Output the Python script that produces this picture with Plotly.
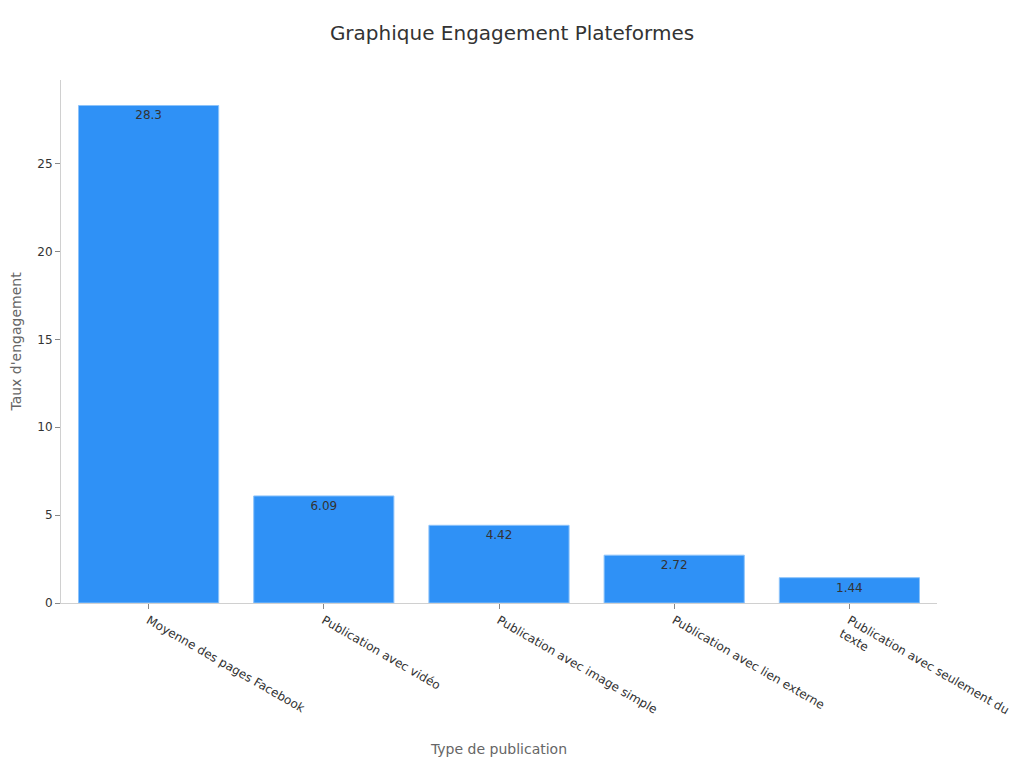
import plotly.graph_objects as go

# categories and values
categories = [
    "Moyenne des pages Facebook",
    "Publication avec vidéo",
    "Publication avec image simple",
    "Publication avec lien externe",
    "Publication avec seulement du<br>texte",
]
engagement = [28.3, 6.09, 4.42, 2.72, 1.44]

# the page body has an 8px margin, so the figure is sized to fit inside it
W, H = 1016, 760

fig = go.Figure(go.Bar(
    x=categories,
    y=engagement,
    text=[str(v) for v in engagement],
    textposition="inside",
    insidetextanchor="end",
    textfont=dict(color="#333333", size=12),
    marker=dict(color="rgb(47,145,246)", line=dict(color="rgb(140,195,250)", width=1)),
))

fig.update_layout(
    title=dict(text="Graphique Engagement Plateformes", x=504 / W, y=1 - 25 / H,
               xref="container", yref="container",
               xanchor="center", yanchor="middle", font=dict(size=20, color="#333333")),
    font=dict(family="DejaVu Sans", size=12, color="#333333"),
    plot_bgcolor="white",
    paper_bgcolor="white",
    width=W,
    height=H,
    margin=dict(l=53, r=87, t=72, b=165, autoexpand=False),
    bargap=0.2,
    showlegend=False,
)
fig.update_xaxes(
    title=dict(text="Type de publication", font=dict(size=14, color="#666666"), standoff=14),
    tickangle=30,
    automargin=False,
    showline=True, linecolor="#d0d0d0",
    ticks="outside", tickcolor="#888888", ticklen=5,
    showgrid=False,
)
fig.update_yaxes(
    title=dict(text="Taux d'engagement", font=dict(size=14, color="#666666")),
    automargin=False,
    range=[0, 29.75],
    dtick=5,
    showline=True, linecolor="#d0d0d0",
    ticks="outside", tickcolor="#888888", ticklen=5,
    showgrid=False, zeroline=False,
)

fig.write_html("out.html")
